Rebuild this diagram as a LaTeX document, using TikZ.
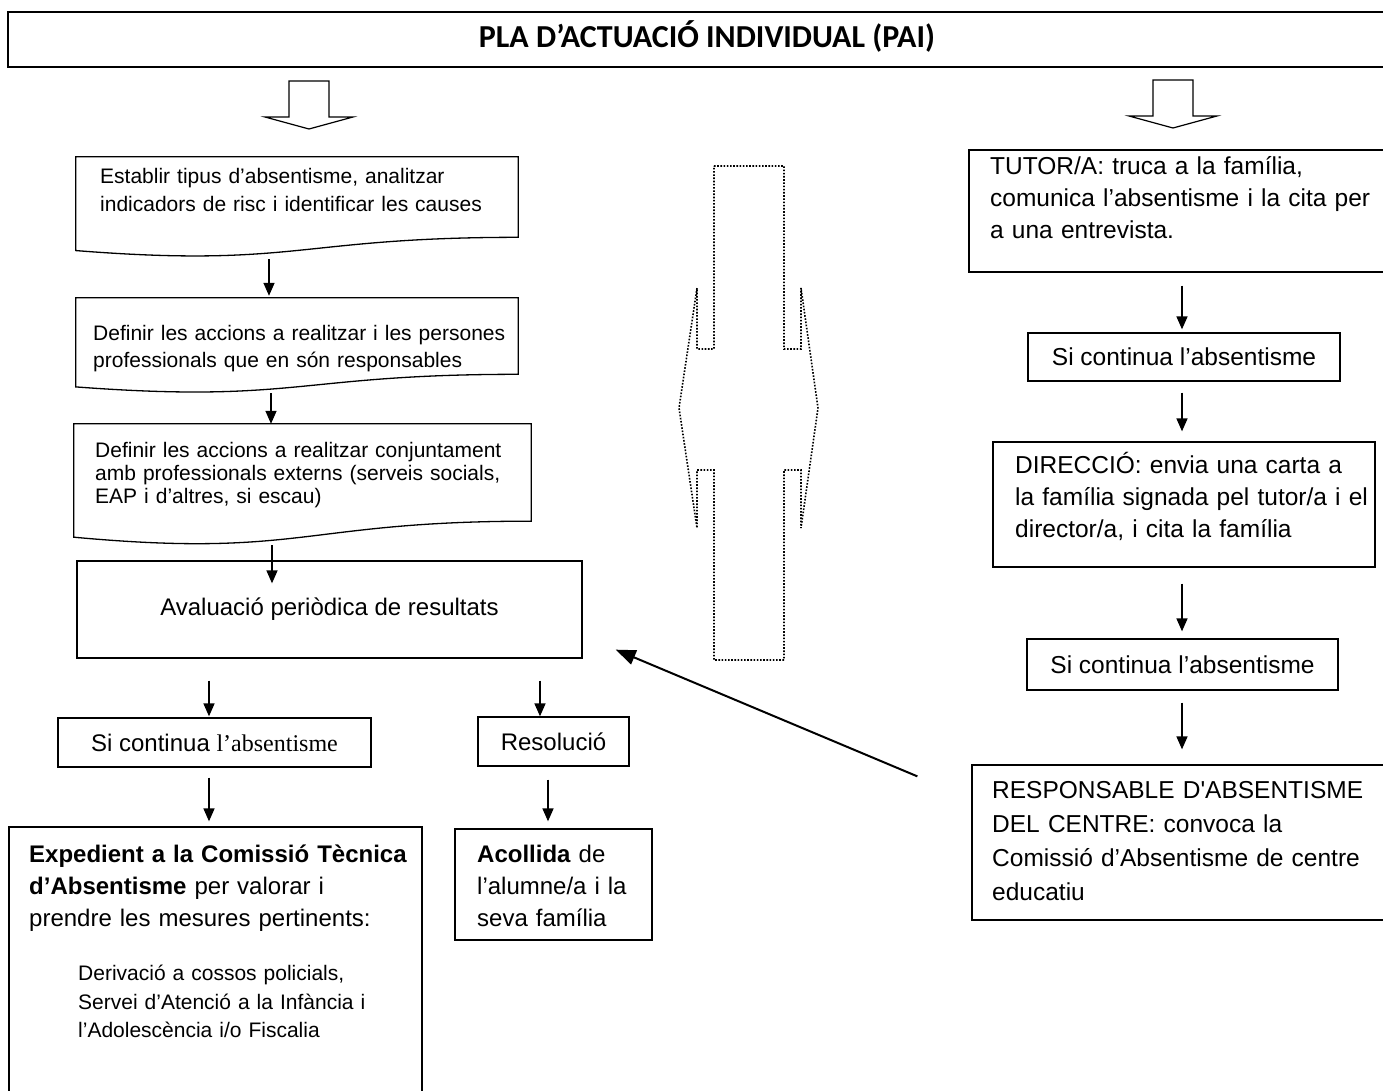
\documentclass[tikz,border=0pt]{standalone}
\usepackage{fontspec}
\setmainfont{Liberation Sans}
\newfontfamily\titlefont{Carlito}
\newfontfamily\seriffont{Liberation Serif}
\usetikzlibrary{arrows.meta,calc}

\begin{document}
\begin{tikzpicture}[x=1pt,y=-1pt,
                box/.style={draw,line width=1.3pt,inner sep=0pt},
                plain/.style={inner sep=0pt,anchor=base west,align=left},
                arr/.style={line width=1.6pt,-{Triangle[length=13pt,width=11pt]}},
                bigarr/.style={line width=2pt,-{Triangle[length=20pt,width=15pt]}},
                dots/.style={line width=1.6pt,dash pattern=on 1.6pt off 1.6pt},
                hollow/.pic={\draw[line width=1.2pt,line join=miter,fill=white]
                (-20,0) -- (-20,36) -- (-44,36) -- (0,48) -- (44,36) -- (20,36) -- (20,0) -- cycle;}]
                \useasboundingbox (0,0) rectangle (1383,1091);
                \fill[white] (0,0) rectangle (1383,1091);
                \clip (0,0) rectangle (1383,1091);

                \node (title) at (700,39.5) [box,minimum width=1384pt,minimum height=55pt] {};
                \node (titletext) at (707,36) [font={\titlefont\bfseries\fontsize{32}{36}\selectfont}] {PLA D’ACTUACIÓ INDIVIDUAL (PAI)};
                \pic at (309,81) {hollow};
                \pic at (1173,80) {hollow};

                \node (establir) at (297,207) [inner sep=0pt,minimum width=442pt,minimum height=100pt] {};
                \node (accions) at (297,345.5) [inner sep=0pt,minimum width=442pt,minimum height=95pt] {};
                \node (externs) at (302.5,484.5) [inner sep=0pt,minimum width=457pt,minimum height=121pt] {};
                \foreach \b in {establir,accions,externs}
                    \draw[line width=1.3pt] (\b.north west) -- (\b.north east)
                        -- ($(\b.north east)!0.802!(\b.south east)$)
                        .. controls ($(\b.north)!0.802!(\b.south)$) and ($(\b.north)!1.108!(\b.south)$)
                        .. ($(\b.north west)!0.934!(\b.south west)$) -- cycle;
                \node (establirtext) at (100,184) [plain,text width=420pt,font={\fontsize{21}{28}\selectfont}]
                    {Establir tipus d’absentisme, analitzar\\indicadors de risc i identificar les causes};
                \node (accionstext) at (93,340) [plain,text width=420pt,font={\fontsize{21}{27}\selectfont}]
                    {Definir les accions a realitzar i les persones\\professionals que en són responsables};
                \node (externstext) at (95,457.5) [plain,text width=430pt,font={\fontsize{21}{23}\selectfont}]
                    {Definir les accions a realitzar conjuntament\\amb professionals externs (serveis socials,\\EAP i d’altres, si escau)};
                \node (avaluacio) at (329.5,609.5) [box,minimum width=505pt,minimum height=97pt,font={\fontsize{24}{28}\selectfont}]
                    {Avaluació periòdica de resultats};
                \node (continuaL) at (214.5,742.5) [box,minimum width=313pt,minimum height=49pt,font={\fontsize{24}{28}\selectfont}]
                    {Si continua {\seriffont l’absentisme}};
                \node (resolucio) at (553.5,741.5) [box,minimum width=151pt,minimum height=49pt,font={\fontsize{24}{28}\selectfont}]
                    {Resolució};
                \node (expedient) at (215.5,963.5) [box,minimum width=413pt,minimum height=273pt] {};
                \node (expedienttext) at (29,862) [plain,text width=390pt,font={\fontsize{24}{32}\selectfont}]
                    {\textbf{Expedient a la Comissió Tècnica}\\\textbf{d’Absentisme} per valorar i\\prendre les mesures pertinents:};
                \node (derivacio) at (78,980.5) [plain,text width=340pt,font={\fontsize{21}{28.5}\selectfont}]
                    {Derivació a cossos policials,\\Servei d’Atenció a la Infància i\\l’Adolescència i/o Fiscalia};
                \node (acollida) at (553.5,884.5) [box,minimum width=197pt,minimum height=111pt] {};
                \node (acollidatext) at (477,862) [plain,text width=180pt,font={\fontsize{24}{32}\selectfont}]
                    {\textbf{Acollida} de\\l’alumne/a i la\\seva família};

                \node (tutor) at (1180.5,211) [box,minimum width=423pt,minimum height=122pt] {};
                \node (tutortext) at (990,175) [plain,text width=390pt,font={\fontsize{24.5}{32}\selectfont}]
                    {TUTOR/A: truca a la família,\\comunica l’absentisme i la cita per\\a una entrevista.};
                \node (continua1) at (1184,357) [box,minimum width=312pt,minimum height=48pt,font={\fontsize{24.5}{28}\selectfont}]
                    {Si continua l’absentisme};
                \node (direccio) at (1184,504.5) [box,minimum width=382pt,minimum height=125pt] {};
                \node (docciotext) at (1015,473) [plain,text width=360pt,font={\fontsize{24.5}{32}\selectfont}]
                    {DIRECCIÓ: envia una carta a\\la família signada pel tutor/a i el\\director/a, i cita la família};
                \node (continua2) at (1182.5,664.5) [box,minimum width=311pt,minimum height=51pt,font={\fontsize{24.5}{28}\selectfont}]
                    {Si continua l’absentisme};
                \node (responsable) at (1182,842.5) [box,minimum width=420pt,minimum height=155pt] {};
                \node (responsabletext) at (992,798) [plain,text width=390pt,font={\fontsize{24.5}{34}\selectfont}]
                    {RESPONSABLE D{\textquotesingle}ABSENTISME\\DEL CENTRE: convoca la\\Comissió d’Absentisme de centre\\educatiu};

                \draw[dots] (714,166) -- (784,166) -- (784,349) -- (801,349) -- (801,288) -- (818,408)
                    -- (801,528) -- (801,470) -- (784,470) -- (784,660) -- (714,660) -- (714,470)
                    -- (697,470) -- (697,528) -- (679,408) -- (697,288) -- (697,349) -- (714,349) -- cycle;

                \draw ([xshift=-28pt]establir.south) edge[arr,shorten <=2pt,shorten >=2pt] ([xshift=-28pt]accions.north);
                \draw ([xshift=-26pt]accions.south) edge[arr] ([xshift=-31.5pt]externs.north);
                \draw ([xshift=-30.5pt]externs.south) edge[arr] ([xshift=-57.5pt,yshift=-23pt]avaluacio.north);
                \draw ([xshift=-120.5pt]avaluacio.south) edge[arr,shorten <=22pt,shorten >=1pt] ([xshift=-5.5pt]continuaL.north);
                \draw ([xshift=210.5pt]avaluacio.south) edge[arr,shorten <=22pt] ([xshift=-13.5pt]resolucio.north);
                \draw ([xshift=-5.5pt]continuaL.south) edge[arr,shorten <=10pt,shorten >=5pt] ([xshift=-6.5pt]expedient.north);
                \draw ([xshift=-5.5pt]resolucio.south) edge[arr,shorten <=13pt,shorten >=7pt] ([xshift=-5.5pt]acollida.north);
                \draw ([xshift=1.5pt]tutor.south) edge[arr,shorten <=13pt,shorten >=3pt] ([xshift=-2pt]continua1.north);
                \draw ([xshift=-2pt]continua1.south) edge[arr,shorten <=11pt,shorten >=10pt] ([xshift=-2pt]direccio.north);
                \draw ([xshift=-2pt]direccio.south) edge[arr,shorten <=16pt,shorten >=7pt] ([xshift=-0.5pt]continua2.north);
                \draw ([xshift=-0.5pt]continua2.south) edge[arr,shorten <=12pt,shorten >=15pt] (responsable.north);
                \draw ([xshift=-54pt,yshift=-12pt]responsable.north west) edge[bigarr] ([xshift=33pt,yshift=9pt]avaluacio.south east);
            \end{tikzpicture}
\end{document}
